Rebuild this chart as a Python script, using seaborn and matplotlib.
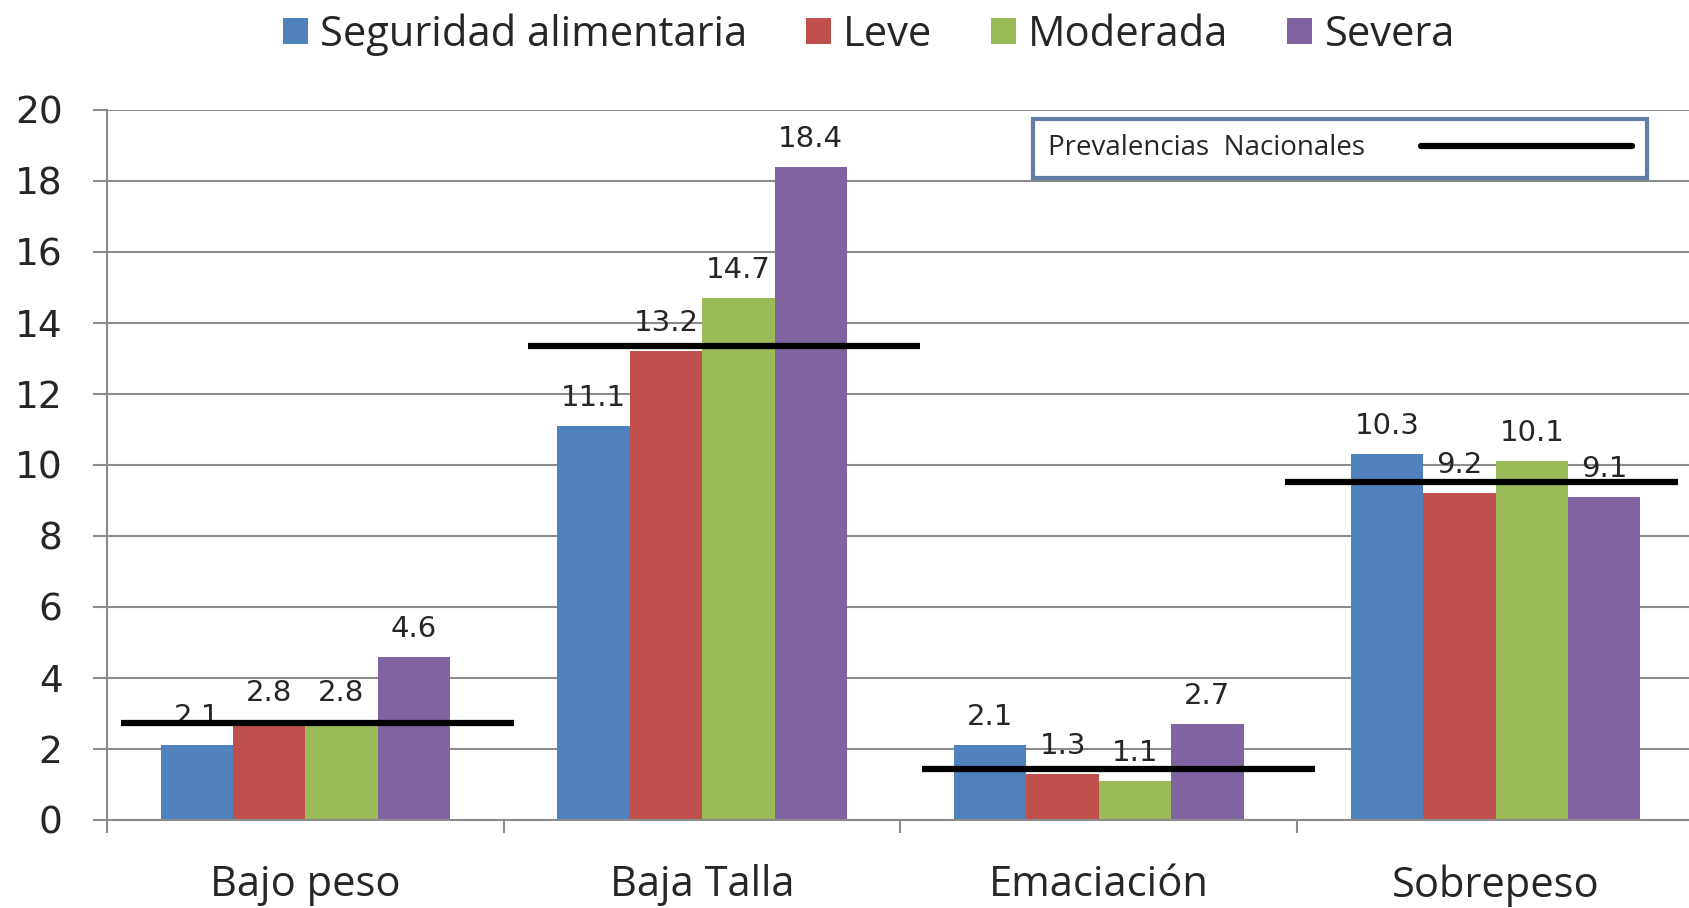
import matplotlib
matplotlib.use("Agg")
import matplotlib.pyplot as plt
from matplotlib.lines import Line2D
import seaborn as sns
import pandas as pd
import numpy as np

sns.set_style("white")
plt.rcParams['font.family'] = ['Open Sans', 'DejaVu Sans']

# data
categorias = ["Bajo peso", "Baja Talla", "Emaciación", "Sobrepeso"]
grupos = ["Seguridad alimentaria", "Leve", "Moderada", "Severa"]
seguridad = [2.1, 11.1, 2.1, 10.3]
leve = [2.8, 13.2, 1.3, 9.2]
moderada = [2.8, 14.7, 1.1, 10.1]
severa = [4.6, 18.4, 2.7, 9.1]
nacional = [2.73, 13.35, 1.43, 9.53]
colores = ["#4F81BD", "#C0504D", "#9BBB59", "#8064A2"]

rows = []
for g, vals in zip(grupos, [seguridad, leve, moderada, severa]):
    for c, v in zip(categorias, vals):
        rows.append({"cat": c, "grupo": g, "valor": v})
df = pd.DataFrame(rows)

fig = plt.figure(figsize=(16.9, 9.08), dpi=100)
ax = fig.add_axes([0.0633, 0.097, 0.9367, 0.782])

sns.barplot(data=df, x="cat", y="valor", hue="grupo", palette=colores,
            width=0.73, saturation=1, ax=ax, linewidth=0, zorder=2)

for cont in ax.containers:
    ax.bar_label(cont, fmt="%.1f", padding=10, fontsize=21,
                 family="DejaVu Sans", zorder=3)

# national prevalence lines
shift = [0.03, 0.055, 0.05, -0.035]
for i, v in enumerate(nacional):
    ax.hlines(v, i - 0.495 + shift[i], i + 0.495 + shift[i], color="black",
              lw=4.5, zorder=5)

ax.set_ylim(0, 20)
ax.set_xlim(-0.5, 3.49)
ax.set_yticks(np.arange(0, 21, 2))
ax.yaxis.grid(True, color="#8c8c8c", lw=1.5, zorder=0)
ax.set_axisbelow(True)
for s in ["top", "right"]:
    ax.spines[s].set_visible(False)
ax.spines["left"].set_color("#8c8c8c")
ax.spines["bottom"].set_color("#8c8c8c")
ax.spines["left"].set_linewidth(1.5)
ax.spines["bottom"].set_linewidth(1.5)

ax.tick_params(axis="y", direction="out", length=10, width=1.5,
               color="#8c8c8c", pad=22, left=True)
for t in ax.get_yticklabels():
    t.set_family("DejaVu Sans")
    t.set_fontsize(27)
ax.set_xticks(range(4))
ax.set_xticklabels(categorias, fontsize=30)
ax.tick_params(axis="x", length=0, pad=32)
ax.set_xticks(np.arange(-0.5, 3.5, 1), minor=True)
ax.tick_params(axis="x", which="minor", direction="out", length=9,
               width=1.5, color="#8c8c8c", bottom=True)
ax.set_xlabel("")
ax.set_ylabel("")

handles, labels = ax.get_legend_handles_labels()
ax.get_legend().remove()
fig.legend(handles, labels, loc="center", bbox_to_anchor=(0.514, 0.962),
           ncol=4, frameon=False, fontsize=30, handlelength=0.6,
           handleheight=0.6, handletextpad=0.3, columnspacing=1.4)

leg = ax.legend([Line2D([], [], color="black", lw=4.5)],
                ["Prevalencias  Nacionales"], loc="upper right",
                bbox_to_anchor=(0.973, 0.987), borderaxespad=0,
                markerfirst=False, handlelength=7.6, handletextpad=2.0,
                fontsize=20, fancybox=False, borderpad=0.55)
leg.get_frame().set_edgecolor("#3A5F8F")
leg.get_frame().set_linewidth(3)

fig.savefig("out.png", dpi=100)
